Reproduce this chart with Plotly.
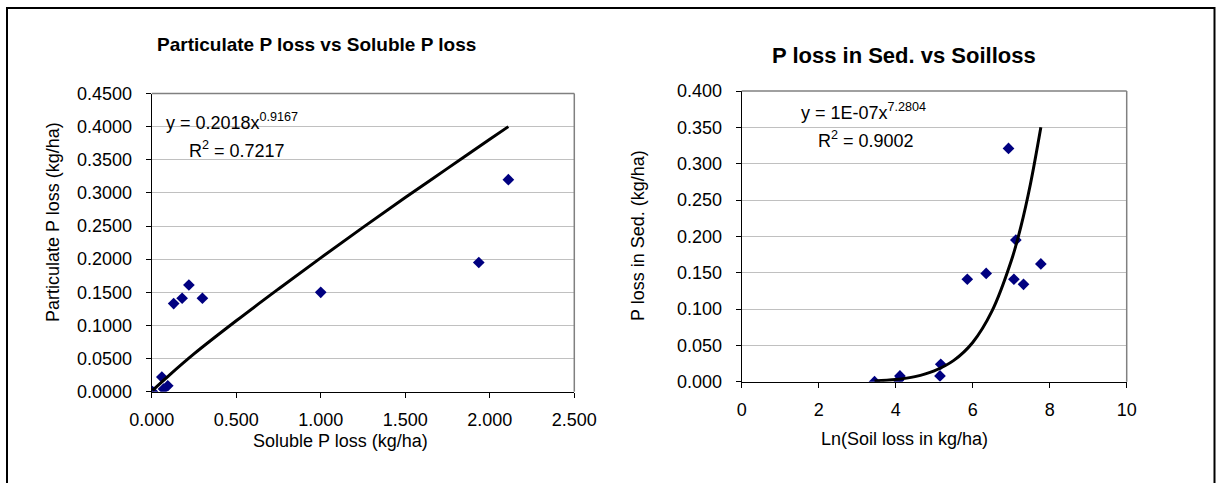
import plotly.graph_objects as go

W, H = 1216, 483

# ---- data ----
sol_p = [0.005, 0.06, 0.07, 0.095, 0.13, 0.18, 0.22, 0.30, 1.00, 1.935, 2.11]
part_p = [0.000, 0.022, 0.004, 0.009, 0.133, 0.141, 0.161, 0.141, 0.150, 0.195, 0.320]

trend1_x = [0.005, 0.1, 0.25, 0.5, 0.75, 1.0, 1.25, 1.5, 1.75, 2.0, 2.11]
trend1_y = [0.002, 0.024, 0.057, 0.107, 0.155, 0.202, 0.248, 0.293, 0.337, 0.381, 0.400]

ln_soil = [3.45, 4.07, 4.11, 5.15, 5.17, 5.86, 6.35, 6.93, 7.07, 7.12, 7.32, 7.77]
p_sed = [0.000, 0.002, 0.008, 0.008, 0.024, 0.141, 0.149, 0.321, 0.141, 0.195, 0.134, 0.162]

trend2_x = [3.45, 4.0, 4.5, 5.0, 5.5, 6.0, 6.5, 7.0, 7.25, 7.5, 7.77]
trend2_y = [0.001, 0.003, 0.007, 0.015, 0.029, 0.054, 0.097, 0.166, 0.213, 0.272, 0.350]

x1_ticks = [0, 0.5, 1.0, 1.5, 2.0, 2.5]
y1_ticks = [0, 0.05, 0.10, 0.15, 0.20, 0.25, 0.30, 0.35, 0.40, 0.45]
x2_ticks = [0, 2, 4, 6, 8, 10]
y2_ticks = [0, 0.05, 0.10, 0.15, 0.20, 0.25, 0.30, 0.35, 0.40]

FONT = "Liberation Sans, Arial, sans-serif"
NAVY = "#000080"

def px(x):
    return x / W

def py(y):
    return 1 - y / H

fig = go.Figure()

fig.add_trace(go.Scatter(x=sol_p, y=part_p, mode="markers",
                         marker=dict(symbol="diamond", size=9, color=NAVY),
                         xaxis="x", yaxis="y", showlegend=False))
fig.add_trace(go.Scatter(x=trend1_x, y=trend1_y, mode="lines", line_shape="spline",
                         line=dict(color="black", width=3),
                         xaxis="x", yaxis="y", showlegend=False))
fig.add_trace(go.Scatter(x=ln_soil, y=p_sed, mode="markers",
                         marker=dict(symbol="diamond", size=9, color=NAVY),
                         xaxis="x2", yaxis="y2", showlegend=False))
fig.add_trace(go.Scatter(x=trend2_x, y=trend2_y, mode="lines", line_shape="spline",
                         line=dict(color="black", width=3),
                         xaxis="x2", yaxis="y2", showlegend=False))

# plot-area pixel boxes
L1, R1, T1, B1 = 151.7, 574.3, 93.5, 391.7
L2, R2, T2, B2 = 741.7, 1126.7, 91.0, 381.7

tickfont = dict(family=FONT, size=18, color="black")
common_x = dict(showline=True, linecolor="black", linewidth=1, ticks="outside",
                ticklen=5, tickcolor="black", showgrid=False, zeroline=False,
                tickfont=tickfont, ticklabelstandoff=7, automargin=False)
common_y = dict(showline=True, linecolor="black", linewidth=1, ticks="outside",
                ticklen=5, tickcolor="black", showgrid=True, gridcolor="#c0c0c0",
                gridwidth=1, zeroline=False, tickfont=tickfont, ticklabelstandoff=10,
                automargin=False)

fig.update_layout(
    width=W, height=H,
    margin=dict(l=0, r=0, t=0, b=0, pad=0, autoexpand=False),
    paper_bgcolor="white", plot_bgcolor="white",
    xaxis=dict(domain=[px(L1), px(R1)], range=[0, 2.5], tickvals=x1_ticks,
               tickformat=".3f", anchor="y", **common_x),
    yaxis=dict(domain=[py(B1), py(T1)], range=[0, 0.45], tickvals=y1_ticks,
               tickformat=".4f", anchor="x", **common_y),
    xaxis2=dict(domain=[px(L2), px(R2)], range=[0, 10], tickvals=x2_ticks,
                tickformat="d", anchor="y2", **common_x),
    yaxis2=dict(domain=[py(B2), py(T2)], range=[0, 0.4], tickvals=y2_ticks,
                tickformat=".3f", anchor="x2", **common_y),
)

shapes = []
# gray top/right plot-area border
for xr, yr in (("x", "y"), ("x2", "y2")):
    shapes.append(dict(type="line", xref=f"{xr} domain", yref=f"{yr} domain",
                       x0=0, x1=1, y0=1, y1=1, line=dict(color="#808080", width=1.5)))
    shapes.append(dict(type="line", xref=f"{xr} domain", yref=f"{yr} domain",
                       x0=1, x1=1, y0=0, y1=1, line=dict(color="#808080", width=1.5)))
# outer chart border
shapes.append(dict(type="rect", xref="paper", yref="paper",
                   x0=px(7), x1=px(1214.5), y0=-0.1, y1=py(8),
                   line=dict(color="black", width=2)))
fig.update_layout(shapes=shapes)

def ann(text, x, y, size=18, xanchor="center", angle=0, bold=False):
    return dict(text=f"<b>{text}</b>" if bold else text, x=px(x), y=py(y),
                xref="paper", yref="paper", xanchor=xanchor, yanchor="middle",
                showarrow=False, textangle=angle,
                font=dict(family=FONT, size=size, color="black"))

annotations = [
    ann("Particulate P loss vs Soluble P loss", 316, 45, size=19, bold=True),
    ann("P loss in Sed. vs Soilloss", 904, 56, size=22, bold=True),
    ann("Soluble P loss (kg/ha)", 340, 441),
    ann("Ln(Soil loss in kg/ha)", 905, 439),
    ann("Particulate P loss (kg/ha)", 53, 222, angle=-90),
    ann("P loss in Sed. (kg/ha)", 638, 236, angle=-90),
    ann("y = 0.2018x<sup>0.9167</sup>", 164, 121, xanchor="left"),
    ann("R<sup>2</sup> = 0.7217", 187, 150, xanchor="left"),
    ann("y = 1E-07x<sup>7.2804</sup>", 799, 111, xanchor="left"),
    ann("R<sup>2</sup> = 0.9002", 816, 140, xanchor="left"),
]
fig.update_layout(annotations=annotations)

fig.write_html("out.html")
